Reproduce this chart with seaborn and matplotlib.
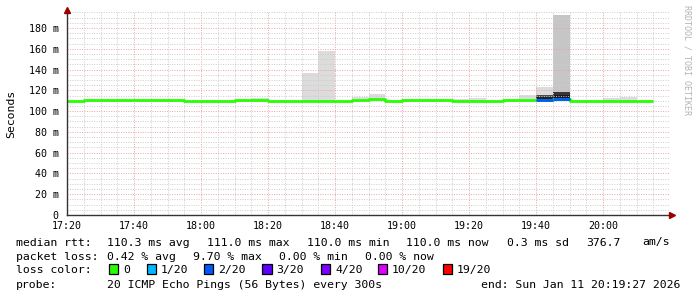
import numpy as np
import pandas as pd
import matplotlib
matplotlib.use("Agg")
import matplotlib.pyplot as plt
import matplotlib.dates as mdates
import seaborn as sns
from matplotlib.patches import Rectangle

# ---------------- data ----------------
bin_labels = ["17:20", "17:25", "17:30", "17:35", "17:40", "17:45", "17:50", "17:55",
              "18:00", "18:05", "18:10", "18:15", "18:20", "18:25", "18:30", "18:35",
              "18:40", "18:45", "18:50", "18:55", "19:00", "19:05", "19:10", "19:15",
              "19:20", "19:25", "19:30", "19:35", "19:40", "19:45", "19:50", "19:55",
              "20:00", "20:05", "20:10"]
median_ms = [110.0, 111.0, 110.8, 110.3, 110.7, 110.3, 110.9, 110.0,
             110.0, 110.0, 110.6, 111.0, 110.0, 110.0, 110.0, 110.0,
             110.0, 110.6, 111.3, 110.0, 110.5, 110.8, 110.8, 110.0,
             110.0, 110.0, 110.6, 111.0, 110.3, 111.2, 110.0, 110.0,
             110.0, 110.0, 110.0]
loss_count = [0] * 28 + [2, 2] + [0] * 5
n = None
smoke_max = [n, n, n, n, n, n, n, n,
             n, n, n, 112.6, n, n, 137.0, 158.0,
             n, 113.3, 116.4, n, n, n, n, 111.8,
             112.3, n, n, 115.5, 123.5, 192.5, n, n,
             112.6, 113.5, n]
smoke_dark = [n] * 28 + [115.3, 118.7] + [n] * 5
smoke_core = [n] * 28 + [113.3, 115.5] + [n] * 5

y_ticks = [0, 20, 40, 60, 80, 100, 120, 140, 160, 180]
y_tick_labels = ["0", "20 m", "40 m", "60 m", "80 m", "100 m", "120 m", "140 m", "160 m", "180 m"]
x_tick_labels = ["17:20", "17:40", "18:00", "18:20", "18:40", "19:00", "19:20", "19:40", "20:00"]

loss_levels = ["0", "1/20", "2/20", "3/20", "4/20", "10/20", "19/20"]
loss_colors = ["#26ff00", "#00b8ff", "#0059ff", "#5e00ff", "#7e00ff", "#dd00ff", "#ff0000"]
loss_color_by_count = {0: "#26ff00", 1: "#00b8ff", 2: "#0059ff", 3: "#5e00ff",
                       4: "#7e00ff", 10: "#dd00ff", 19: "#ff0000"}

legend_lines = [
    ["median rtt:", "110.3 ms avg", "111.0 ms max", "110.0 ms min", "110.0 ms now", "0.3 ms sd", "376.7", "am/s"],
    ["packet loss:", "0.42 % avg", "9.70 % max", "0.00 % min", "0.00 % now"],
]
probe_label = "probe:"
probe_text = "20 ICMP Echo Pings (56 Bytes) every 300s"
end_text = "end: Sun Jan 11 20:19:27 2026"

# ---------------- figure ----------------
sns.set_theme(style="white")
plt.rcParams["font.family"] = ["DejaVu Sans Mono", "DejaVu Sans"]

W, H = 697, 297
fig = plt.figure(figsize=(W / 100, H / 100), dpi=100)
fig.patch.set_facecolor("white")

def fx(px):
    return px / W

def fy(py):
    return 1 - py / H

left, right, top, bottom = 67, 669, 12, 215
ax = fig.add_axes([fx(left), fy(bottom), (right - left) / W, (bottom - top) / H])
ax.set_facecolor("white")

day = "2026-01-11 "
starts = pd.to_datetime([day + s for s in bin_labels])
step = pd.Timedelta(minutes=5)
t0 = pd.Timestamp(day + "17:20")
t_end = t0 + pd.Timedelta(minutes=179.7)

width_days = 5 / (24 * 60)

# smoke layers
def to_arr(lst):
    return np.array([np.nan if v is None else v for v in lst], dtype=float)

smax = to_arr(smoke_max)
sdark = to_arr(smoke_dark)
score = to_arr(smoke_core)
base = 109.5
outer_cols = ["#c6c6c6" if (not np.isnan(v) and v > 180) else "#dcdcdc" for v in smax]
mask = ~np.isnan(smax)
ax.bar(starts[mask], smax[mask] - base, bottom=base, width=width_days, align="edge",
       color=np.array(outer_cols)[mask], linewidth=0, zorder=1)
mask = ~np.isnan(sdark)
ax.bar(starts[mask], sdark[mask] - base, bottom=base, width=width_days, align="edge",
       color=["#4a4a4a", "#353535"], linewidth=0, zorder=1.1)
mask = ~np.isnan(score)
ax.bar(starts[mask], score[mask] - base, bottom=base, width=width_days, align="edge",
       color=["#222222", "#1a1a1a"], linewidth=0, zorder=1.2)

# median line
df = pd.DataFrame({"time": list(starts) + [starts[-1] + step],
                   "rtt": median_ms + [median_ms[-1]]})
sns.lineplot(data=df, x="time", y="rtt", drawstyle="steps-post", color="#26ff00",
             linewidth=2.0, ax=ax, zorder=4, solid_capstyle="butt")
for s, m, l in zip(starts, median_ms, loss_count):
    if l > 0:
        ax.hlines(m, s, s + step, color=loss_color_by_count[l], linewidth=2.0, zorder=5)

# axes limits / ticks
ax.set_xlim(t0, t_end)
ax.set_ylim(0, 195.4)
ax.set_xlabel("")
ax.set_ylabel("")

major_x = pd.to_datetime([day + s for s in x_tick_labels])
ax.set_xticks(major_x)
ax.set_xticklabels(x_tick_labels)
ax.xaxis.set_minor_locator(mdates.MinuteLocator(byminute=range(0, 60, 5)))
ax.set_yticks(y_ticks)
ax.set_yticklabels(y_tick_labels)
ax.set_yticks(np.arange(0, 196, 5), minor=True)

ax.tick_params(axis="both", which="both", length=0, labelsize=7.2, colors="black")
ax.tick_params(axis="x", pad=4)
ax.tick_params(axis="y", pad=6)

ax.grid(which="minor", color="#cccccc", linestyle=(0, (1, 1.5)), linewidth=0.7)
ax.grid(which="major", color="#eba3a3", linestyle=(0, (1, 1.5)), linewidth=0.7)
ax.set_axisbelow(False)
for line in ax.get_xgridlines() + ax.get_ygridlines():
    line.set_zorder(2)

for side in ["top", "right"]:
    ax.spines[side].set_visible(False)
for side in ["left", "bottom"]:
    ax.spines[side].set_color("#333333")
    ax.spines[side].set_linewidth(1.0)
    ax.spines[side].set_zorder(6)

# arrow heads
ax.plot([0], [1.0 + 2 / (bottom - top)], marker="^", markersize=4.5, color="#990000",
        transform=ax.transAxes, clip_on=False, zorder=7)
ax.plot([1.0 + 3 / (right - left)], [0], marker=">", markersize=4.5, color="#990000",
        transform=ax.transAxes, clip_on=False, zorder=7)

# labels
fig.text(fx(11), fy(113.5), "Seconds", rotation=90, ha="center", va="center",
         fontsize=8.25, color="black")
fig.text(fx(687), fy(5), "RRDTOOL / TOBI OETIKER", rotation=270, ha="center", va="top",
         fontsize=6.0, color="#b3b3b3")

fs = 8.25
line1_x = [16, 107.3, 206.7, 306.7, 405.5, 507, 586, 642]
for txt, x in zip(legend_lines[0], line1_x):
    fig.text(fx(x), fy(245.5), txt, fontsize=fs, ha="left", va="baseline", color="black")
line2_x = [16, 107.3, 193.3, 279.3, 365.3]
for txt, x in zip(legend_lines[1], line2_x):
    fig.text(fx(x), fy(259.5), txt, fontsize=fs, ha="left", va="baseline", color="black")

fig.text(fx(16), fy(273.2), "loss color:", fontsize=fs, ha="left", va="baseline", color="black")
box_x = [108.3, 146, 203.3, 261.7, 320, 377, 442]
for lab, col, bx in zip(loss_levels, loss_colors, box_x):
    fig.add_artist(Rectangle((fx(bx + 0.5), fy(273.8)), 9.5 / W, 9.5 / H,
                             transform=fig.transFigure, facecolor=col,
                             edgecolor="black", linewidth=0.9))
    fig.text(fx(bx + 15), fy(273.2), lab, fontsize=fs, ha="left", va="baseline", color="black")

fig.text(fx(16), fy(287.8), probe_label, fontsize=fs, ha="left", va="baseline", color="black")
fig.text(fx(107.3), fy(287.8), probe_text, fontsize=fs, ha="left", va="baseline", color="black")
fig.text(fx(680.5), fy(287.8), end_text, fontsize=fs, ha="right", va="baseline", color="black")

fig.savefig("out.png", dpi=100, facecolor="white")
